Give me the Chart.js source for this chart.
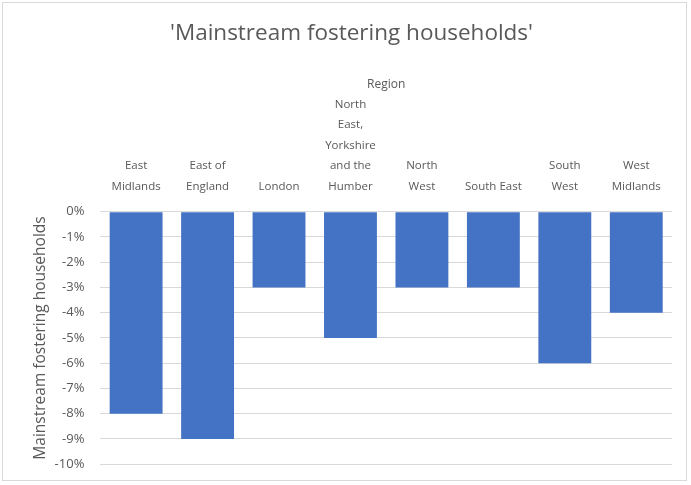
<!DOCTYPE html>
<html><head><meta charset="utf-8">
<script src="https://cdn.jsdelivr.net/npm/chart.js@4"></script>
<style>
html,body{margin:0;padding:0;background:#fff;}
#wrap{position:absolute;left:2px;top:2px;width:685px;height:479px;border:1px solid #d9d9d9;box-sizing:border-box;}
canvas{display:block;}
</style></head><body>
<div id="wrap"><canvas id="c" width="683" height="485"></canvas></div>
<script>
const categories = [
  ["East","Midlands"],
  ["East of","England"],
  ["London"],
  ["North","East,","Yorkshire","and the","Humber"],
  ["North","West"],
  ["South East"],
  ["South","West"],
  ["West","Midlands"]
];
const values = [-8, -9, -3, -5, -3, -3, -6, -4];
const yTicks = [-10,-9,-8,-7,-6,-5,-4,-3,-2,-1,0];
const titleText = "'Mainstream fostering households'";
const xTitle = "Region";
const yTitle = "Mainstream fostering households";

const FONT = "'Open Sans', sans-serif";
const GREY = '#595959';
new Chart(document.getElementById('c'), {
  type: 'bar',
  data: { labels: categories, datasets: [{ data: values, backgroundColor: '#4472c4', categoryPercentage: 1, barPercentage: 0.74 }] },
  options: {
    responsive: false, animation: false,
    layout: { padding: { left: 28, right: 14, top: 12, bottom: 2 } },
    plugins: {
      legend: { display: false }, tooltip: { enabled: false },
      title: { display: true, text: titleText, color: GREY, font: { family: FONT, size: 22.5, weight: 'normal' }, padding: { top: 5, bottom: 30 } }
    },
    scales: {
      x: {
        position: 'top',
        grid: { display: false, drawTicks: false },
        border: { display: false },
        afterFit: (s) => { s.height -= 12; },
        ticks: { color: GREY, font: { family: FONT, size: 11.5, lineHeight: 1.78 }, maxRotation: 0, autoSkip: false, padding: 15 },
        title: { display: true, text: xTitle, color: GREY, font: { family: FONT, size: 12 }, padding: { top: 0, bottom: 0 } }
      },
      y: {
        min: -10, max: 0,
        afterBuildTicks: (s) => { s.ticks = yTicks.map(v => ({ value: v })); },
        afterFit: (s) => { s.width -= 15; },
        grid: { color: '#d9d9d9', drawTicks: false },
        border: { display: false },
        ticks: { color: GREY, font: { family: FONT, size: 13 }, padding: 16, callback: (v) => v + '%' },
        title: { display: true, text: yTitle, color: GREY, font: { family: FONT, size: 15.5 }, padding: { top: 0, bottom: 4 } }
      }
    }
  }
});
</script>
</body></html>
